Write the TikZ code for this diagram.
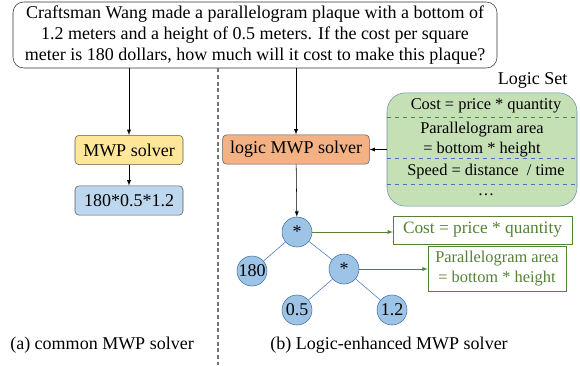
\documentclass[tikz,border=0pt]{standalone}
\usepackage{fontspec}
\setmainfont{Liberation Serif}
\usepackage{tikz}
\usetikzlibrary{positioning}

\definecolor{mwpyellow}{HTML}{FFE699}
\definecolor{exprblue}{HTML}{BDD7EE}
\definecolor{logicorange}{HTML}{F4B183}
\definecolor{setgreen}{HTML}{C5E0B4}
\definecolor{setborder}{HTML}{6F8FAF}
\definecolor{rowblue}{HTML}{4472C4}
\definecolor{treefill}{HTML}{9DC3E6}
\definecolor{treeline}{HTML}{41719C}
\definecolor{rulegreen}{HTML}{548235}

\newcommand{\opstar}{\raisebox{-0.35em}{*}}

\begin{document}
\begin{tikzpicture}[x=0.75pt,y=-0.75pt,>=latex,
    font=\fontsize{13.5}{15.75}\selectfont,
    qbox/.style={draw=black!80,rounded corners=8pt,align=center,minimum width=363pt,minimum height=49.5pt,inner sep=0pt},
    solver/.style={draw=black!65,rounded corners=3pt,minimum height=22pt,inner sep=0pt},
    setbox/.style={draw=setborder,fill=setgreen,rounded corners=14pt,minimum width=142.5pt,minimum height=85pt},
    setrow/.style={align=center,font=\fontsize{12.3}{15}\selectfont},
    rowsep/.style={draw=rowblue,dashed,thin},
    opnode/.style={circle,draw=treeline,fill=treefill,minimum size=22.5pt,inner sep=0pt},
    treeedge/.style={draw=rowblue,thin},
    rulebox/.style={draw=rulegreen,text=rulegreen,align=center,inner sep=0pt},
    ruleline/.style={draw=rulegreen,->}]

\useasboundingbox (0,0) rectangle (580,365);

% problem text
\node[qbox] (Q) at (255,35) {Craftsman Wang made a parallelogram plaque with a bottom of\\
    1.2 meters and a height of 0.5 meters. If the cost per square\\
    meter is 180 dollars, how much will it cost to make this plaque?};

% (a) common solver
\node[solver,fill=mwpyellow,minimum width=81pt] (M) at (129,150) {MWP solver};
\node[solver,fill=exprblue,minimum width=81pt] (E) at (129,200.5) {180*0.5*1.2};

% (b) logic-enhanced solver
\node[solver,fill=logicorange,minimum width=110pt] (L) at (296,149.5) {logic MWP solver};
\node[setbox] (S) at (482,149.5) {};
\node[anchor=east] (T) at (572,80) {Logic Set};

\draw[rowsep] (S.west |- 0,117) -- (S.east |- 0,117);
\draw[rowsep] (S.west |- 0,158) -- (S.east |- 0,158);
\draw[rowsep] (S.west |- 0,184) -- (S.east |- 0,184);

\node[setrow] (r1) at (486,106) {Cost = price * quantity};
\node[setrow] (r2) at (482,139.5) {Parallelogram area\\= bottom * height};
\node[setrow] (r3) at (486,171.5) {Speed = distance\ \ / time};
\node[setrow] (r4) at (486,195) {\dots};

% expression tree
\node[opnode] (n1) at (297,232) {\opstar};
\node[opnode] (n2) at (252,271) {180};
\node[opnode] (n3) at (344,269) {\opstar};
\node[opnode] (n4) at (297,310) {0.5};
\node[opnode] (n5) at (392,310) {1.2};

\draw[treeedge] (n1) -- (n2);
\draw[treeedge] (n1) -- (n3);
\draw[treeedge] (n3) -- (n4);
\draw[treeedge] (n3) -- (n5);

\node[rulebox,minimum width=134pt,minimum height=21pt,font=\fontsize{13}{15}\selectfont] (c1) at (482.5,230) {Cost = price * quantity};
\node[rulebox,minimum width=103.5pt,minimum height=34pt,font=\fontsize{12.3}{15}\selectfont] (c2) at (497,268.5) {Parallelogram area\\= bottom * height};

\draw[ruleline] (n1.east) -- (n1.east -| c1.west);
\draw[ruleline] (n3.east) -- (n3.east -| c2.west);

% connectors
\draw[->] (Q.south -| M) -- (M);
\draw[->] (Q.south -| L) -- (L);
\draw[->] (M) -- (E);
\draw[->] (S.west |- L) -- (L);
\draw[->] (L) -- (n1);

% divider
\coordinate (d1) at (Q.south -| 218,0);
\coordinate (d2) at (218,365);
\draw[black!55,line width=1pt,dash pattern=on 3pt off 2pt] (d1) -- (d2);

% captions
\node (capa) at (102,345) {(a) common MWP solver};
\node (capb) at (389,345) {(b) Logic-enhanced MWP solver};

\end{tikzpicture}
\end{document}
